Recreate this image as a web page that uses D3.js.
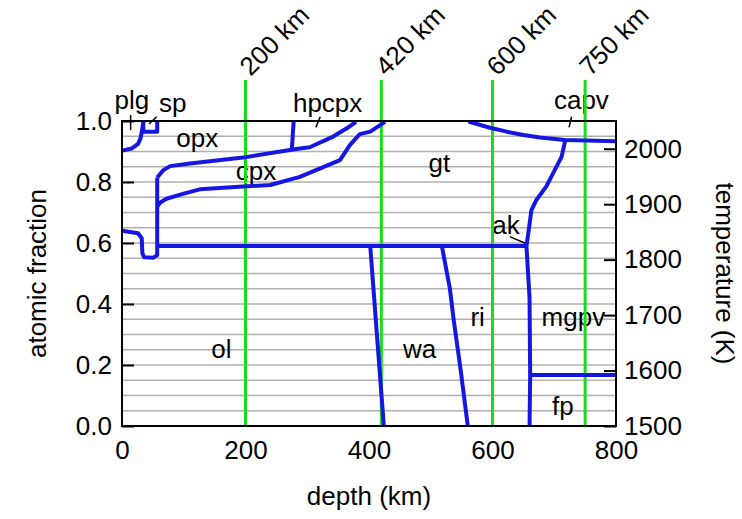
<!DOCTYPE html>
<html>
<head>
<meta charset="utf-8">
<script src="https://cdn.jsdelivr.net/npm/d3@7"></script>
<style>
  body { margin: 0; background: #fff; }
  text { font-family: "Liberation Sans", Arial, Helvetica, sans-serif; fill: #000; }
</style>
</head>
<body>
<svg id="chart" width="742" height="519"></svg>
<script>
// Phase boundaries along a mantle adiabat: [depth (km), atomic fraction]
const olOpxBoundary = [[0, 0.903], [16, 0.91], [26, 0.925], [30, 0.943], [33, 0.975], [34.5, 1.0]];
const spinelField = [[34.5, 1.0], [34.5, 0.965], [57, 0.965], [57, 1.0]];
const plgSpGtBoundary = [[0, 0.64], [26, 0.632], [32, 0.615], [33, 0.566], [36, 0.553], [51, 0.552], [57, 0.56], [57, 0.815]];
const opxCpxBoundary = [[57, 0.815], [67, 0.839], [78, 0.852], [110, 0.861], [196, 0.88], [272, 0.905], [288, 0.91], [304, 0.914], [342, 0.949], [364, 0.976], [379, 0.997]];
const hpcpxBoundary = [[275, 0.905], [278, 1.0]];
const cpxGtBoundary = [[57, 0.72], [62, 0.733], [72, 0.745], [100, 0.762], [126, 0.776], [196, 0.785], [240, 0.79], [288, 0.817], [353, 0.872], [369, 0.921], [385, 0.957], [402, 0.965], [426, 0.997]];
const olivineTop = [[57, 0.59], [655, 0.59]];
const olWaBoundary = [[402, 0.59], [424, 0.0]];
const waRiBoundary = [[518, 0.59], [531, 0.45], [537, 0.35], [548, 0.19], [560, 0.0]];
const riMgpvBoundary = [[655, 0.59], [660, 0.42], [661, 0.167], [660, 0.0]];
const mgpvFpBoundary = [[661, 0.167], [800, 0.167]];
const akBoundary = [[655, 0.59], [658, 0.632], [663, 0.708], [671, 0.741], [687, 0.785], [712, 0.883], [717, 0.93], [717, 0.938]];
const capvBoundary = [[561, 0.998], [596, 0.978], [623, 0.965], [650, 0.954], [677, 0.946], [717, 0.938], [800, 0.934]];

const boundaries = [olOpxBoundary, spinelField, plgSpGtBoundary, opxCpxBoundary, hpcpxBoundary,
  cpxGtBoundary, olivineTop, olWaBoundary, waRiBoundary, riMgpvBoundary, mgpvFpBoundary,
  akBoundary, capvBoundary];

// Phase names placed at [depth, fraction]
const phaseNames = ["plg", "sp", "opx", "hpcpx", "cpx", "gt", "capv", "ak", "ri", "mgpv", "wa", "fp", "ol"];
const phaseDepths = [16, 82, 122, 333, 217, 514, 744, 622, 576, 731, 482, 714, 161];
const phaseFractions = [1.039, 1.03, 0.915, 1.03, 0.808, 0.833, 1.038, 0.628, 0.328, 0.328, 0.222, 0.036, 0.222];

// Pointer segments from small-field labels: [[depth, fraction], [depth, fraction]]
const pointers = [
  [[14, 1.02], [14, 0.97]],
  [[56, 1.014], [44, 0.99]],
  [[321, 1.014], [314, 0.979]],
  [[728, 1.014], [724, 0.979]],
  [[628, 0.621], [653, 0.599]]
];

// Reference depths of seismic discontinuities
const markerDepths = [200, 420, 600, 750];
const markerLabels = ["200 km", "420 km", "600 km", "750 km"];

// Axis ticks
const depthTicks = [0, 200, 400, 600, 800];
const fractionTicks = [0, 0.2, 0.4, 0.6, 0.8, 1.0];
const gridFractions = d3.range(1, 20).map(i => i / 20);
const temperatureTicks = [1500, 1600, 1700, 1800, 1900, 2000];

const svg = d3.select("#chart");
const plotLeft = 122, plotRight = 616, plotTop = 121, plotBottom = 426;

const x = d3.scaleLinear().domain([0, 800]).range([plotLeft, plotRight]);
const y = d3.scaleLinear().domain([0, 1]).range([plotBottom, plotTop]);
const yT = d3.scaleLinear().domain([1500, 2050]).range([plotBottom, plotTop]);

const blue = "#1616e2";
const green = "#18dd18";
const fontSize = 26;

// Horizontal grid
svg.append("g").selectAll("line").data(gridFractions).join("line")
  .attr("x1", plotLeft).attr("x2", plotRight)
  .attr("y1", d => y(d)).attr("y2", d => y(d))
  .attr("stroke", "#b0b0b0").attr("stroke-width", 1.5);

// Phase labels
svg.append("g").selectAll("text").data(phaseNames).join("text")
  .attr("x", (d, i) => x(phaseDepths[i]))
  .attr("y", (d, i) => y(phaseFractions[i]))
  .attr("text-anchor", "middle")
  .attr("font-size", fontSize)
  .text(d => d);

// Discontinuity markers
const markers = svg.append("g");
markers.selectAll("line").data(markerDepths).join("line")
  .attr("x1", d => x(d)).attr("x2", d => x(d))
  .attr("y1", 80).attr("y2", plotBottom)
  .attr("stroke", green).attr("stroke-width", 3);
markers.selectAll("text").data(markerDepths).join("text")
  .attr("transform", d => `translate(${x(d) + 5},${77}) rotate(-45)`)
  .attr("font-size", fontSize)
  .text((d, i) => markerLabels[i]);

// Pointer segments
const line = d3.line().x(d => x(d[0])).y(d => y(d[1]));
svg.append("g").selectAll("path").data(pointers).join("path")
  .attr("d", line).attr("fill", "none")
  .attr("stroke", "#000").attr("stroke-width", 1.5);

// Phase boundaries
svg.append("g").selectAll("path").data(boundaries).join("path")
  .attr("d", line).attr("fill", "none")
  .attr("stroke", blue).attr("stroke-width", 4)
  .attr("stroke-linejoin", "round").attr("stroke-linecap", "butt");

// Frame
svg.append("rect")
  .attr("x", plotLeft).attr("y", plotTop)
  .attr("width", plotRight - plotLeft).attr("height", plotBottom - plotTop)
  .attr("fill", "none").attr("stroke", "#000").attr("stroke-width", 2);

// Axes
const styleAxis = g => {
  g.select(".domain").remove();
  g.selectAll(".tick line").attr("stroke", "#000").attr("stroke-width", 2);
  g.selectAll(".tick text").attr("font-size", fontSize)
    .attr("font-family", "'Liberation Sans', Arial, sans-serif").attr("fill", "#000");
};

svg.append("g").attr("transform", `translate(${plotLeft},0)`)
  .call(d3.axisLeft(y).tickValues(fractionTicks).tickFormat(d3.format(".1f"))
    .tickSize(-12).tickPadding(10))
  .call(styleAxis);

svg.append("g").attr("transform", `translate(${plotRight},0)`)
  .call(d3.axisRight(yT).tickValues(temperatureTicks).tickFormat(d3.format("d"))
    .tickSize(-12).tickPadding(8))
  .call(styleAxis);

svg.append("g").attr("transform", `translate(0,${plotBottom})`)
  .call(d3.axisBottom(x).tickValues(depthTicks).tickFormat(d3.format("d"))
    .tickSize(0).tickPadding(15))
  .call(styleAxis);

// Axis titles
svg.append("text")
  .attr("x", (plotLeft + plotRight) / 2).attr("y", 505)
  .attr("text-anchor", "middle").attr("font-size", fontSize)
  .text("depth (km)");

svg.append("text")
  .attr("transform", `translate(46,${(plotTop + plotBottom) / 2}) rotate(-90)`)
  .attr("text-anchor", "middle").attr("font-size", fontSize)
  .text("atomic fraction");

svg.append("text")
  .attr("transform", `translate(716,${(plotTop + plotBottom) / 2}) rotate(90)`)
  .attr("text-anchor", "middle").attr("font-size", fontSize)
  .text("temperature (K)");
</script>
</body>
</html>
